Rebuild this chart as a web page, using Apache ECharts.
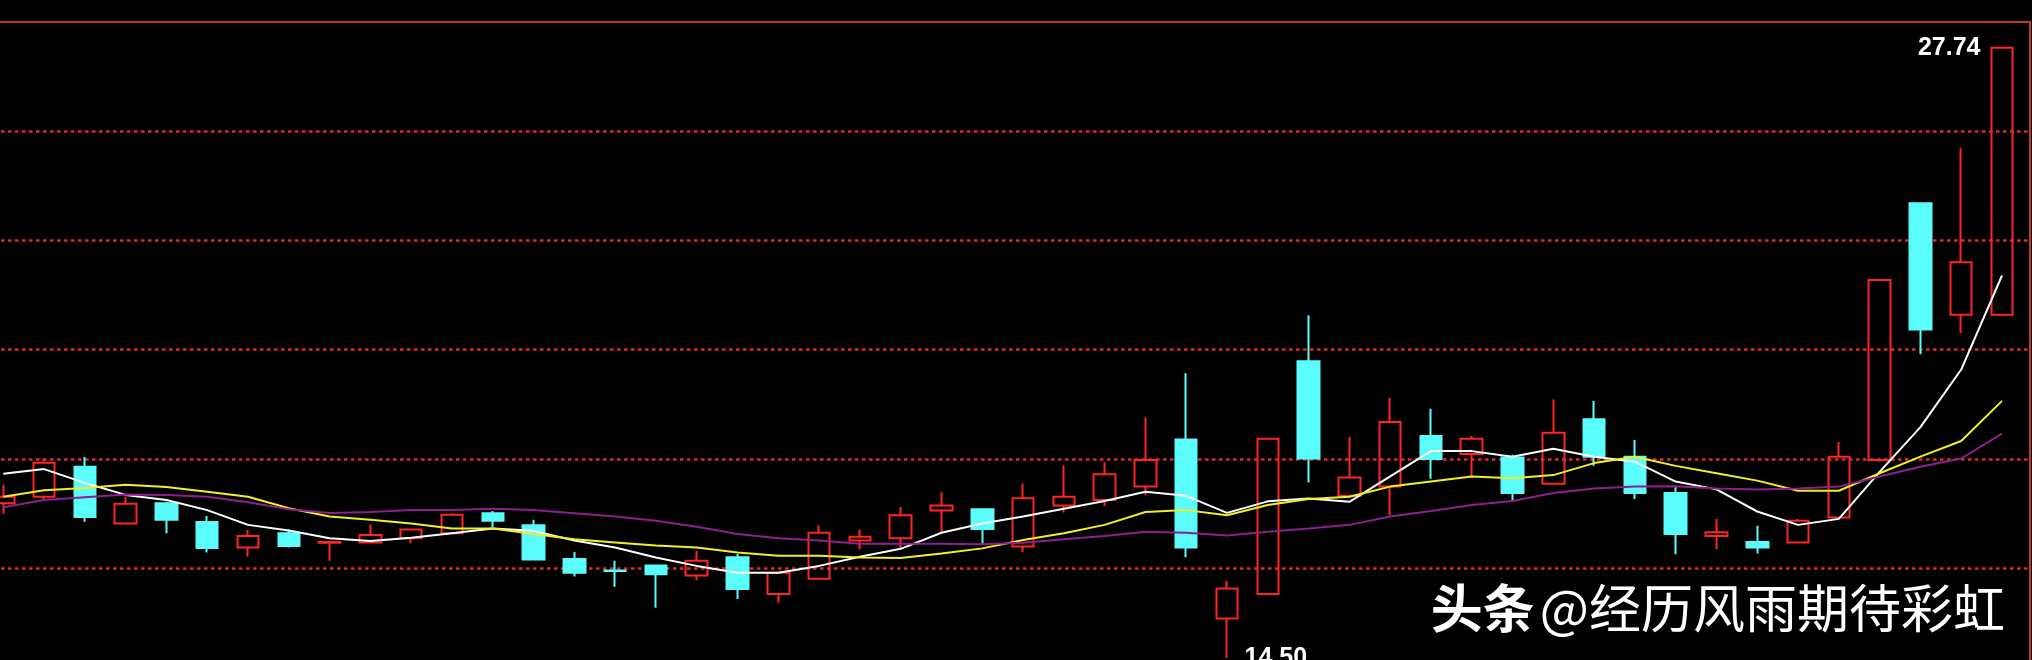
<!DOCTYPE html>
<html>
<head>
<meta charset="utf-8">
<script src="https://cdn.jsdelivr.net/npm/echarts@6/dist/echarts.min.js"></script>
<style>
html,body{margin:0;padding:0;background:#000;}
#c{width:2032px;height:660px;}
</style>
</head>
<body>
<div id="c"></div>
<script>
const categories = ['01','02','03','04','05','06','07','08','09','10',
  '11','12','13','14','15','16','17','18','19','20',
  '21','22','23','24','25','26','27','28','29','30',
  '31','32','33','34','35','36','37','38','39','40',
  '41','42','43','44','45','46','47','48','49','50'];

const openP = [17.86, 18.00, 18.65, 17.42, 17.86, 17.45, 16.90, 17.21, 17.00, 17.01,
  17.10, 17.21, 17.64, 17.38, 16.65, 16.40, 16.51, 16.29, 16.69, 15.89,
  16.22, 17.05, 17.10, 17.70, 17.73, 16.92, 17.81, 17.93, 18.22, 19.24,
  15.36, 15.89, 20.94, 18.02, 18.22, 19.32, 18.93, 18.85, 18.28, 19.68,
  18.87, 18.08, 17.15, 17.02, 17.01, 17.55, 18.80, 24.37, 21.95, 21.95];

const closeP = [18.00, 18.74, 17.56, 17.85, 17.50, 16.89, 17.15, 16.93, 17.02, 17.17,
  17.29, 17.61, 17.48, 16.64, 16.35, 16.39, 16.32, 16.61, 16.00, 16.35,
  17.22, 17.13, 17.60, 17.81, 17.30, 17.97, 18.00, 18.49, 18.80, 16.90,
  16.01, 19.26, 18.83, 18.42, 19.62, 18.82, 19.26, 18.08, 19.39, 18.87,
  18.08, 17.19, 17.23, 16.90, 17.48, 18.87, 22.70, 21.63, 23.09, 27.74];

const lowP = [17.63, 17.95, 17.46, 17.42, 17.21, 16.79, 16.70, 16.90, 16.61, 17.01,
  16.99, 17.21, 17.34, 16.64, 16.27, 16.05, 15.59, 16.19, 15.78, 15.70,
  16.22, 16.86, 16.88, 17.22, 16.98, 16.80, 17.66, 17.80, 18.03, 16.69,
  14.50, 15.89, 18.31, 18.02, 17.60, 18.39, 18.44, 17.91, 18.28, 18.67,
  17.95, 16.75, 16.86, 16.77, 17.01, 17.55, 18.76, 21.09, 21.55, 21.93];

const highP = [18.26, 18.83, 18.86, 18.00, 17.89, 17.58, 17.28, 17.29, 17.02, 17.40,
  17.29, 17.64, 17.69, 17.50, 16.80, 16.61, 16.51, 16.83, 16.76, 16.35,
  17.38, 17.29, 17.78, 18.10, 17.73, 18.29, 18.68, 18.75, 19.72, 20.68,
  16.17, 19.26, 21.94, 19.30, 20.15, 19.91, 19.32, 18.91, 20.11, 20.08,
  19.23, 18.21, 17.52, 17.37, 17.52, 19.19, 22.70, 24.37, 25.56, 27.74];

const ma5 = [18.50, 18.60, 18.30, 18.04, 17.93, 17.71, 17.39, 17.27, 17.10, 17.04,
  17.11, 17.21, 17.31, 17.26, 17.05, 16.90, 16.68, 16.50, 16.35, 16.35,
  16.50, 16.70, 16.87, 17.22, 17.42, 17.57, 17.74, 17.91, 18.11, 18.02,
  17.65, 17.90, 17.96, 17.89, 18.44, 18.99, 18.99, 18.87, 19.04, 18.87,
  18.76, 18.33, 18.16, 17.68, 17.39, 17.52, 18.54, 19.51, 20.76, 22.80];

const ma10 = [18.00, 18.14, 18.19, 18.26, 18.21, 18.11, 18.00, 17.75, 17.57, 17.50,
  17.42, 17.31, 17.31, 17.19, 17.08, 17.01, 16.94, 16.90, 16.79, 16.72,
  16.72, 16.68, 16.67, 16.77, 16.88, 17.06, 17.21, 17.39, 17.67, 17.71,
  17.60, 17.82, 17.95, 18.00, 18.22, 18.33, 18.44, 18.40, 18.47, 18.73,
  18.87, 18.67, 18.51, 18.35, 18.13, 18.13, 18.51, 18.87, 19.21, 20.08];

const ma20 = [17.77, 17.93, 17.99, 18.05, 18.04, 18.00, 17.88, 17.73, 17.65, 17.67,
  17.71, 17.71, 17.74, 17.71, 17.64, 17.57, 17.48, 17.35, 17.19, 17.10,
  17.05, 16.98, 16.98, 16.98, 16.97, 17.00, 17.08, 17.15, 17.24, 17.22,
  17.16, 17.24, 17.31, 17.39, 17.57, 17.69, 17.82, 17.91, 18.08, 18.18,
  18.22, 18.23, 18.18, 18.16, 18.18, 18.22, 18.44, 18.65, 18.83, 19.37];

const watermarkBold = '头条';
const watermarkText = '@经历风雨期待彩虹';

const ohlc = categories.map((c, i) => [openP[i], closeP[i], lowP[i], highP[i]]);

const chart = echarts.init(document.getElementById('c'), null, {renderer: 'canvas'});

const frameColor = '#bb3a2f';
const dashColor = '#dc2c2c';
const upColor = '#ff2525';
const downColor = '#5afcfc';

const option = {
  backgroundColor: '#000',
  animation: false,
  title: {
    text: '{b|' + watermarkBold + '} {r|' + watermarkText + '}',
    right: 27,
    top: 582,
    padding: 0,
    textStyle: {
      rich: {
        b: {fontSize: 52, fontWeight: 'bold', color: '#fff', fontFamily: 'Noto Sans CJK SC'},
        r: {fontSize: 52, fontWeight: 'normal', color: '#fff', fontFamily: 'Noto Sans CJK SC'}
      }
    }
  },
  grid: [
    {left: -17.1, right: 9.6, top: 22, bottom: -17.25, outerBoundsMode: 'none', containLabel: false},
    {left: -20, right: 2.5, top: 22, bottom: -17.25, outerBoundsMode: 'none', containLabel: false}
  ],
  xAxis: [
    {type: 'category', data: categories, gridIndex: 0, boundaryGap: true,
      axisLine: {show: false}, axisTick: {show: false}, axisLabel: {show: false}, splitLine: {show: false}},
    {type: 'value', gridIndex: 1, min: 0, max: 1, position: 'top',
      axisLine: {show: true, onZero: false, lineStyle: {color: frameColor, width: 2}},
      axisTick: {show: false}, axisLabel: {show: false}, splitLine: {show: false}}
  ],
  yAxis: [
    {type: 'value', gridIndex: 0, min: 14.084, max: 28.30, scale: true,
      axisLine: {show: false}, axisTick: {show: false}, axisLabel: {show: false}, splitLine: {show: false}},
    {type: 'value', gridIndex: 1, min: 0, max: 6, interval: 1, position: 'right',
      axisLine: {show: true, onZero: false, lineStyle: {color: frameColor, width: 2}},
      axisTick: {show: false}, axisLabel: {show: false},
      splitLine: {show: true, showMaxLine: false, lineStyle: {color: dashColor, width: 2.5, type: [3.5, 3.5]}}}
  ],
  series: [
    {
      type: 'candlestick',
      xAxisIndex: 0, yAxisIndex: 0,
      data: ohlc,
      barWidth: 22,
      itemStyle: {
        color: 'rgba(0,0,0,0)', color0: downColor,
        borderColor: upColor, borderColor0: downColor, borderWidth: 2
      },
      markPoint: {
        symbol: 'circle', symbolSize: 1,
        itemStyle: {color: 'rgba(0,0,0,0)'},
        label: {
          show: true, color: '#fff', fontSize: 25, fontWeight: 'bold',
          fontFamily: 'Liberation Sans',
          formatter: p => Number(p.value).toFixed(2)
        },
        data: [
          {type: 'max', valueDim: 'highest', label: {position: 'left', distance: 21}},
          {type: 'min', valueDim: 'lowest', label: {position: 'right', distance: 17}}
        ]
      }
    },
    {type: 'line', xAxisIndex: 0, yAxisIndex: 0, data: ma5, symbol: 'none', smooth: false,
      lineStyle: {color: '#ffffff', width: 2}},
    {type: 'line', xAxisIndex: 0, yAxisIndex: 0, data: ma10, symbol: 'none', smooth: false,
      lineStyle: {color: '#f0f022', width: 2}},
    {type: 'line', xAxisIndex: 0, yAxisIndex: 0, data: ma20, symbol: 'none', smooth: false,
      lineStyle: {color: '#8e1f8e', width: 2}}
  ]
};
chart.setOption(option);
</script>
</body>
</html>
